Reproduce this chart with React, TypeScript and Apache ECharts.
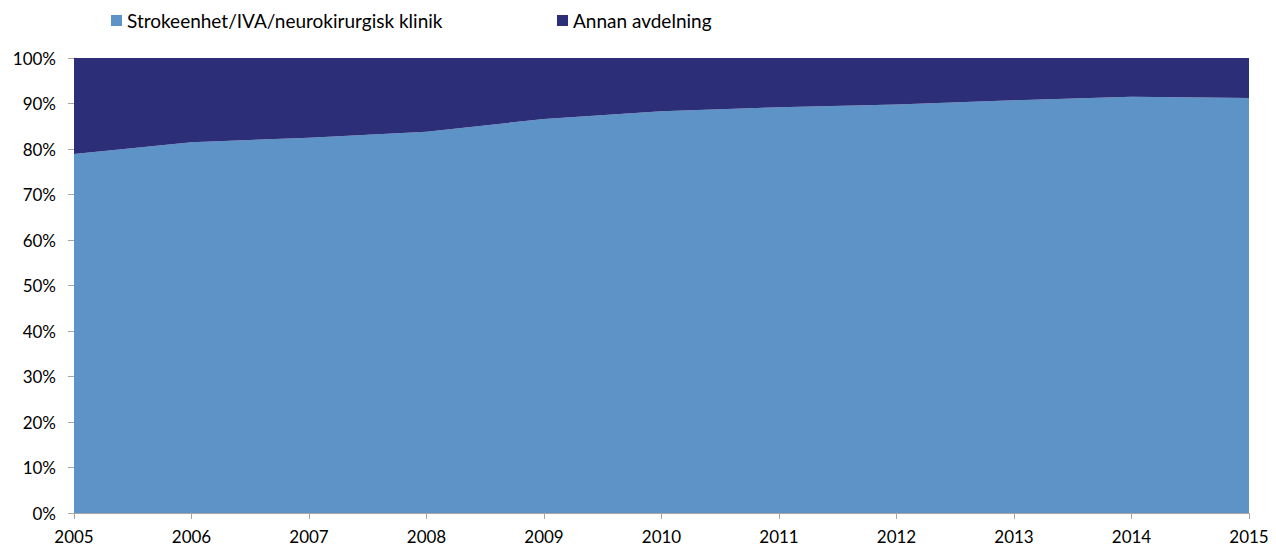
import React, { useEffect, useRef } from "react";
import * as echarts from "echarts";

const years = ["2005", "2006", "2007", "2008", "2009", "2010", "2011", "2012", "2013", "2014", "2015"];
const strokeenhet = [78.9, 81.5, 82.5, 83.8, 86.6, 88.3, 89.2, 89.8, 90.7, 91.5, 91.2];
const annan = [21.1, 18.5, 17.5, 16.2, 13.4, 11.7, 10.8, 10.2, 9.3, 8.5, 8.8];
const seriesNames = ["Strokeenhet/IVA/neurokirurgisk klinik", "Annan avdelning"];

const FONT = "Lato, 'Open Sans', sans-serif";

export default function App() {
  const ref = useRef<HTMLDivElement>(null);
  useEffect(() => {
    if (!ref.current) return;
    const chart = echarts.init(ref.current, undefined, { renderer: "svg" });
    chart.setOption({
      animation: false,
      backgroundColor: "#ffffff",
      textStyle: { fontFamily: FONT },
      legend: [
        {
          data: [seriesNames[0]],
          left: 111,
          top: 11,
          padding: 0,
          icon: "rect",
          itemWidth: 11,
          itemHeight: 11,
          textStyle: { fontSize: 19, color: "#000", fontFamily: FONT },
        },
        {
          data: [seriesNames[1]],
          left: 557,
          top: 11,
          padding: 0,
          icon: "rect",
          itemWidth: 11,
          itemHeight: 11,
          textStyle: { fontSize: 19, color: "#000", fontFamily: FONT },
        },
      ],
      grid: { left: 74, right: 27, top: 58, bottom: 37, containLabel: false },
      xAxis: {
        type: "category",
        data: years,
        boundaryGap: false,
        axisLine: { lineStyle: { color: "#a6a6a6", width: 1 } },
        axisTick: { show: true, length: 6, lineStyle: { color: "#a6a6a6" } },
        axisLabel: { color: "#000", fontSize: 17, margin: 15, fontFamily: FONT },
        splitLine: { show: false },
      },
      yAxis: {
        type: "value",
        min: 0,
        max: 100,
        interval: 10,
        axisLine: { show: true, lineStyle: { color: "#a6a6a6", width: 1 } },
        axisTick: { show: true, length: 6, lineStyle: { color: "#a6a6a6" } },
        axisLabel: { color: "#000", fontSize: 17, margin: 18, formatter: "{value}%", fontFamily: FONT },
        splitLine: { show: false },
      },
      series: [
        {
          name: seriesNames[0],
          type: "line",
          stack: "total",
          data: strokeenhet,
          symbol: "none",
          lineStyle: { width: 0 },
          areaStyle: { color: "#5d93c6", opacity: 1 },
          itemStyle: { color: "#5d93c6" },
          z: 2,
        },
        {
          name: seriesNames[1],
          type: "line",
          stack: "total",
          data: annan,
          symbol: "none",
          lineStyle: { width: 0 },
          areaStyle: { color: "#2c2f78", opacity: 1 },
          itemStyle: { color: "#2c2f78" },
          z: 2,
        },
      ],
    });
    return () => chart.dispose();
  }, []);
  return (
    <div
      ref={ref}
      style={{ position: "absolute", left: 0, top: 0, width: 1276, height: 550 }}
    />
  );
}
